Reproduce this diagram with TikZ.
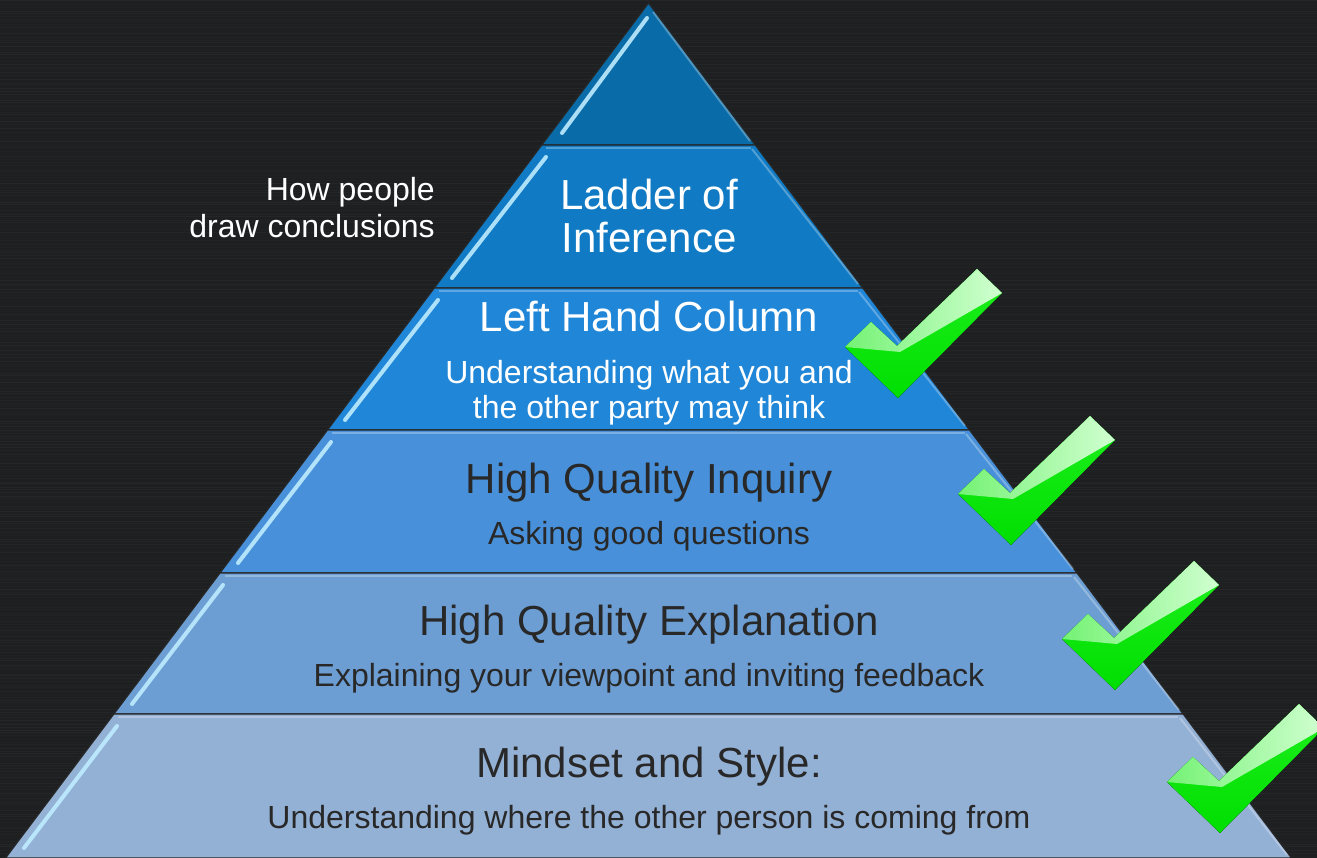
\documentclass[tikz,border=0pt]{standalone}
\usepackage{fontspec}
\setmainfont{Liberation Sans}
\definecolor{bgc}{RGB}{30,31,33}
\definecolor{Lone}{RGB}{9,108,168}
\definecolor{Ltwo}{RGB}{16,123,196}
\definecolor{Lthree}{RGB}{32,134,215}
\definecolor{Lfour}{RGB}{72,145,218}
\definecolor{Lfive}{RGB}{108,158,212}
\definecolor{Lsix}{RGB}{147,176,213}
\definecolor{stripec}{RGB}{190,236,255}
\definecolor{txtd}{RGB}{40,40,40}
\definecolor{chk}{RGB}{30,240,30}
\definecolor{chkdark}{RGB}{0,222,0}
\definecolor{chklight}{RGB}{115,242,115}
\definecolor{chkwhite}{RGB}{210,255,210}
\tikzset{
  layer/.style={draw=black!85, line width=1.3pt, line join=miter},
  bevel/.style={draw=stripec, line width=4pt, line cap=round, opacity=0.9},
  glow/.style={draw=white, opacity=0.28, line width=2pt},
  titlew/.style={font=\fontsize{42}{45}\selectfont, text=white, anchor=base, inner sep=0pt},
  subw/.style={font=\fontsize{32}{34}\selectfont, text=white, anchor=base, inner sep=0pt},
  titled/.style={font=\fontsize{42}{45}\selectfont, text=txtd, anchor=base, inner sep=0pt},
  subd/.style={font=\fontsize{32}{34}\selectfont, text=txtd, anchor=base, inner sep=0pt},
  sidenote/.style={font=\fontsize{32}{34}\selectfont, text=white, anchor=base east, inner sep=0pt},
  greentick/.pic={
    \fill[top color=chk, bottom color=chkdark] (-53,-51) -- (-27,-76) -- (-1,-52) -- (79,-129) -- (104,-105) -- (0,0) -- cycle;
    \begin{scope}
      \clip (-53,-51) -- (-27,-76) -- (-1,-52) -- (79,-129) -- (104,-105) -- (2,-46) -- cycle;
      \shade[left color=chklight, right color=chkwhite] (-55,-132) rectangle (106,-40);
    \end{scope}
  }
}
\begin{document}
\begin{tikzpicture}[x=1pt,y=-1pt]
\useasboundingbox (0,0) rectangle (1317,858);
% background
\fill[bgc] (0,0) rectangle (1317,858);
\pgfmathsetseed{7}
\foreach \i in {0,...,285}{
  \pgfmathsetmacro\op{0.008+0.03*rnd}
  \pgfmathsetmacro\yy{3*\i+2*rnd}
  \draw[white, opacity=\op, line width=0.8pt] (0,\yy) -- (1317,\yy);
}
% layers
\coordinate (apex) at (648.5,3);
\coordinate (aL) at (541.7,145); \coordinate (aR) at (755.3,145);
\coordinate (bL) at (434.2,288); \coordinate (bR) at (862.8,288);
\coordinate (cL) at (327.4,430); \coordinate (cR) at (969.6,430);
\coordinate (dL) at (219.9,573); \coordinate (dR) at (1077.1,573);
\coordinate (eL) at (113.8,714); \coordinate (eR) at (1183.2,714);
\coordinate (fL) at (5.5,858);   \coordinate (fR) at (1291.5,858);

\filldraw[layer, fill=Lone]   (apex) -- (aR) -- (aL) -- cycle;
\filldraw[layer, fill=Ltwo]   (aL) -- (aR) -- (bR) -- (bL) -- cycle;
\filldraw[layer, fill=Lthree] (bL) -- (bR) -- (cR) -- (cL) -- cycle;
\filldraw[layer, fill=Lfour]  (cL) -- (cR) -- (dR) -- (dL) -- cycle;
\filldraw[layer, fill=Lfive]  (dL) -- (dR) -- (eR) -- (eL) -- cycle;
\filldraw[layer, fill=Lsix]   (eL) -- (eR) -- (fR) -- (fL) -- cycle;

% top and right inner glow
\draw[glow] (546,148) -- (751,148);
\draw[glow] (439,291) -- (858,291);
\draw[glow] (332,433) -- (965,433);
\draw[glow] (225,576) -- (1072,576);
\draw[glow] (118,717) -- (1178,717);
\draw[glow] (653,12) -- (750,141);
\draw[glow] (752,149) -- (858,284);
\draw[glow] (859,292) -- (965,426);
\draw[glow] (966,434) -- (1073,569);
\draw[glow] (1074,577) -- (1179,710);
\draw[glow] (1180,718) -- (1287,855);

% left bevel stripes
\draw[bevel] (647,18) -- (562,133);
\draw[bevel] (546,157) -- (452,278);
\draw[bevel] (438,300) -- (345,420);
\draw[bevel] (331,442) -- (238,563);
\draw[bevel] (223,585) -- (132,704);
\draw[bevel] (117,726) -- (24,848);

% texts
\node[titlew] (ladder1) at (649,210) {Ladder of};
\node[titlew] (ladder2) at (649,253) {Inference};
\node[sidenote] (how1) at (435,201) {How people};
\node[sidenote] (how2) at (435,238) {draw conclusions};
\node[titlew] (lhc) at (649,332) {Left Hand Column};
\node[subw] (lhcs1) at (649,384) {Understanding what you and};
\node[subw] (lhcs2) at (649,418) {the other party may think};
\node[titled] (inq) at (649,493) {High Quality Inquiry};
\node[subd] (inqs) at (649,544) {Asking good questions};
\node[titled] (expl) at (649,635) {High Quality Explanation};
\node[subd] (expls) at (649,686) {Explaining your viewpoint and inviting feedback};
\node[titled] (mind) at (649,777) {Mindset and Style:};
\node[subd] (minds) at (649,828) {Understanding where the other person is coming from};

% check marks
\pic at (898,398) {greentick};
\pic at (1011,545) {greentick};
\pic at (1115,690) {greentick};
\pic at (1220,833) {greentick};
\end{tikzpicture}
\end{document}
